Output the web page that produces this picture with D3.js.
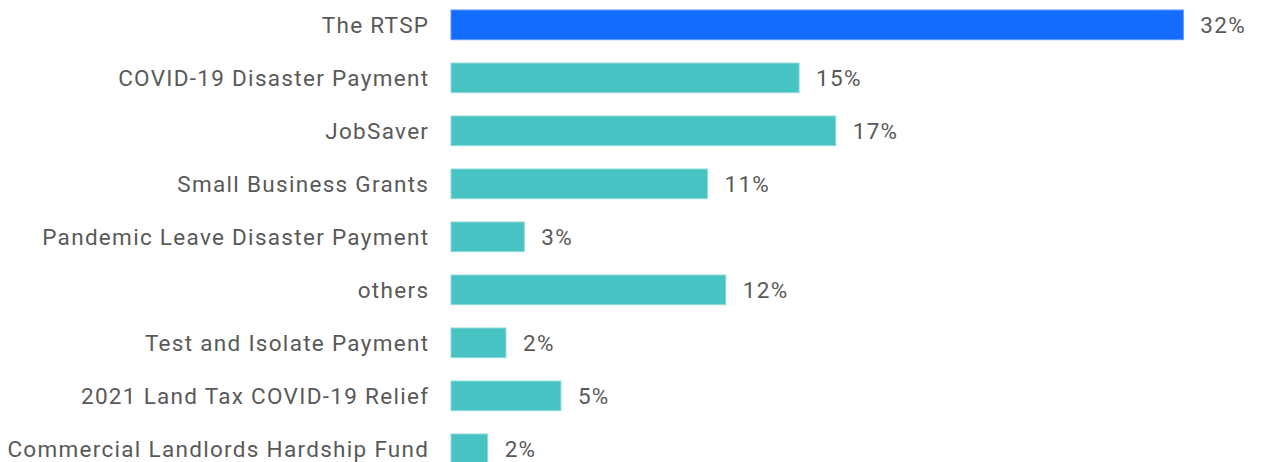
<!DOCTYPE html>
<html>
<head>
<meta charset="utf-8">
<script src="https://cdn.jsdelivr.net/npm/d3@7"></script>
<style>
  html, body { margin: 0; padding: 0; background: #ffffff; overflow: hidden; }
  svg { display: block; }
  text { font-family: Roboto, "Noto Sans", sans-serif; }
</style>
</head>
<body>
<svg id="chart" width="1262" height="462"></svg>
<script>
// Share of support by program (%)
const categories = [
  "The RTSP",
  "COVID-19 Disaster Payment",
  "JobSaver",
  "Small Business Grants",
  "Pandemic Leave Disaster Payment",
  "others",
  "Test and Isolate Payment",
  "2021 Land Tax COVID-19 Relief",
  "Commercial Landlords Hardship Fund"
];
const shares = [31.98, 15.2, 16.8, 11.2, 3.2, 12.0, 2.4, 4.8, 1.6];
const highlighted = ["The RTSP"];

const width = 1262, height = 462;
const fontSize = 22.5, tracking = 1.3;
const svg = d3.select("#chart");

const x = d3.scaleLinear()
  .domain([0, 32])
  .range([451, 451 + 32 * 22.9]);

const y = d3.scaleBand()
  .domain(categories)
  .range([-1.66, -1.66 + categories.length * 53])
  .paddingInner(0.44)
  .paddingOuter(0.22);

const fmt = d => d3.format(".0f")(d) + "%";

const rows = svg.append("g")
  .selectAll("g")
  .data(categories.map((c, i) => ({ name: c, value: shares[i] })))
  .join("g");

rows.append("rect")
  .attr("x", x(0))
  .attr("y", d => y(d.name))
  .attr("width", d => x(d.value) - x(0))
  .attr("height", y.bandwidth())
  .attr("fill", d => highlighted.includes(d.name) ? "#146cfd" : "#48c3c3")
  .attr("stroke", d => highlighted.includes(d.name) ? "#5b96fb" : "#8fdada")
  .attr("stroke-width", 1);

// Category labels
const yAxis = d3.axisLeft(y).tickSize(0).tickPadding(0);
svg.append("g")
  .attr("transform", `translate(${428 + tracking},0)`)
  .call(yAxis)
  .call(g => g.select(".domain").remove())
  .call(g => g.selectAll("text")
    .attr("fill", "#595959")
    .attr("font-size", fontSize)
    .attr("letter-spacing", tracking)
    .attr("dy", "0.37em")
    .attr("font-family", "Roboto, 'Noto Sans', sans-serif"));

// Value labels
rows.append("text")
  .attr("x", d => x(d.value) + 17)
  .attr("y", d => y(d.name) + y.bandwidth() / 2)
  .attr("dy", "0.37em")
  .attr("fill", "#595959")
  .attr("font-size", fontSize)
  .attr("letter-spacing", tracking)
  .text(d => fmt(d.value));
</script>
</body>
</html>
